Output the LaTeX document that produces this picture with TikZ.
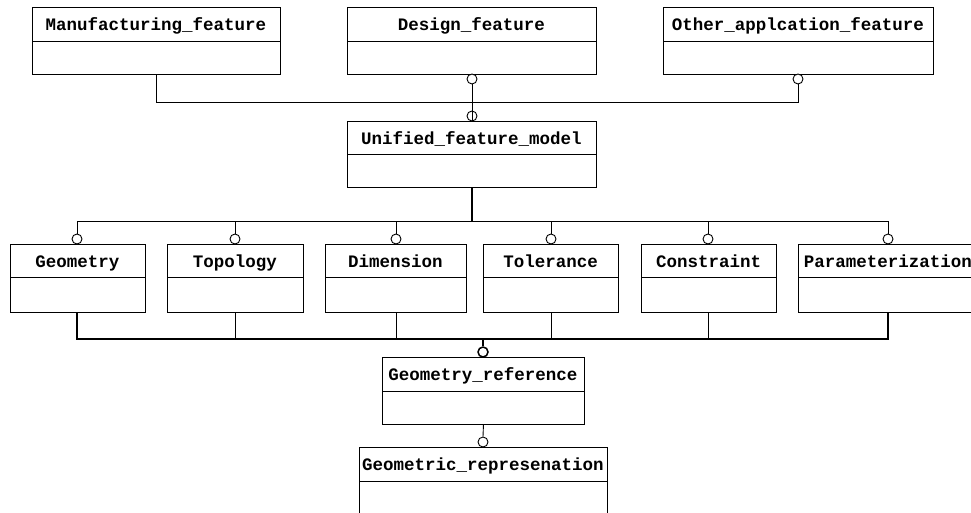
\documentclass[tikz,border=0pt]{standalone}
\usepackage{fontspec}
\setmonofont{Liberation Mono}
\begin{document}
\begin{tikzpicture}[x=1pt,y=-1pt,
  box/.style={draw, rectangle, inner sep=0pt, anchor=north west, line width=0.9pt},
  lbl/.style={font=\ttfamily\bfseries\fontsize{17.5}{20}\selectfont, inner sep=0pt, anchor=base},
  conn/.style={line width=0.9pt},
  thick conn/.style={line width=1.6pt},
  ball/.style={draw, circle, fill=white, inner sep=0pt, minimum size=10pt, line width=0.9pt}]
\useasboundingbox (0,0) rectangle (971,512);
\clip (0,0) rectangle (971,512);
\newcommand{\umlclass}[7]{%
  \node[box, minimum width={#4pt-#2pt}, minimum height={#6pt-#3pt}] (#1) at (#2,#3) {};
  \draw[line width=0.9pt] (#2,#5) -- (#4,#5);
  \node[lbl] (#1-t) at ({(#2+#4)/2},{#3+23.5}) {#7};}
% top row
\umlclass{mfg}{32}{7}{280}{41}{74}{Manufacturing\_feature}
\umlclass{des}{347}{7}{596}{41}{74}{Design\_feature}
\umlclass{oth}{663}{7}{933}{41}{74}{Other\_applcation\_feature}
\umlclass{ufm}{347}{121}{596}{154}{187}{Unified\_feature\_model}
% middle row
\umlclass{geo}{10}{244}{145}{277}{312}{Geometry}
\umlclass{top}{167}{244}{303}{277}{312}{Topology}
\umlclass{dim}{325}{244}{466}{277}{312}{Dimension}
\umlclass{tol}{483}{244}{618}{277}{312}{Tolerance}
\umlclass{con}{641}{244}{776}{277}{312}{Constraint}
\umlclass{par}{798}{244}{978}{277}{312}{Parameterization}
% bottom
\umlclass{gref}{382}{357}{584}{391}{424}{Geometry\_reference}
\umlclass{grep}{359}{447}{607}{481}{530}{Geometric\_represenation}
% balls
\node[ball] (b-des) at (472,79) {};
\node[ball] (b-oth) at (798,79) {};
\node[ball] (b-ufm) at (472,116) {};
\node[ball] (b-geo) at (77,239) {};
\node[ball] (b-top) at (235,239) {};
\node[ball] (b-dim) at (396,239) {};
\node[ball] (b-tol) at (551,239) {};
\node[ball] (b-con) at (708,239) {};
\node[ball] (b-par) at (888,239) {};
\node[ball, line width=1.5pt] (b-gref) at (483,352) {};
\node[ball] (b-grep) at (483,442) {};
% junction coordinates
\coordinate (j1) at (156,102);
\coordinate (j2) at (798,102);
\coordinate (j3) at (472,221);
\coordinate (j4) at (483,339);
% top connectors
\draw[conn] (mfg.south -| j1) -- (j1) -- (j2) -- (b-oth.south);
\draw[conn] (b-des.south) -- (ufm.north -| b-des);
\draw[conn] (b-ufm.north) -- (b-ufm.south);
% middle connectors
\draw[thick conn] (ufm.south -| j3) -- (j3);
\draw[conn] (b-geo.north) -- (b-geo.north |- j3) -- (b-par.north |- j3) -- (b-par.north);
\foreach \n in {top,dim,tol,con} \draw[conn] (b-\n.north) -- (b-\n.north |- j3);
% bottom connectors
\draw[line width=1.3pt] (geo.south -| b-geo) -- (b-geo |- j4) -- (b-par |- j4) -- (par.south -| b-par);
\foreach \n in {top,dim,tol,con} \draw[conn] (\n.south -| b-\n) -- (b-\n |- j4);
\draw[thick conn] (j4) -- (b-gref.north);
\draw[conn] (gref.south) -- (b-grep.north);
\end{tikzpicture}
\end{document}
